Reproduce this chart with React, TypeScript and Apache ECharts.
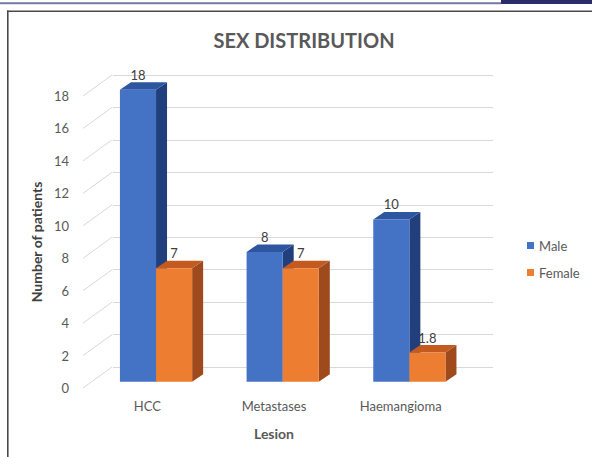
import React, { useEffect, useRef } from "react";
import * as echarts from "echarts";

// Chart data
const CATEGORIES = ["HCC", "Metastases", "Haemangioma"];
const MALE = [18, 8, 10];
const FEMALE = [7, 7, 1.8];
const Y_TICKS = [0, 2, 4, 6, 8, 10, 12, 14, 16, 18];
const SERIES_NAMES = ["Male", "Female"];

// 3D look: offset of the back wall relative to the front plane
const WALL_DX = 29;
const WALL_DY = -21;
// bar depth inside the floor
const BAR_FRONT = 0.3;
const BAR_DX = 11;
const BAR_DY = -7.5;

const FONT = "Lato, 'Open Sans', sans-serif";

const PALETTE = [
  { front: "#4472C4", side: "#213F7D", top: "#2E55A0" },
  { front: "#ED7D31", side: "#9E4A1D", top: "#C45A1F" },
];

function barRenderer(seriesIdx: number) {
  return (params: any, api: any) => {
    const idx = api.value(0);
    const v = api.value(1);
    const base = api.coord([idx, 0]);
    const topPt = api.coord([idx, v]);
    const catW = api.size([1, 0])[0];
    const barW = catW * 0.285;
    const fx = WALL_DX * BAR_FRONT;
    const fy = WALL_DY * BAR_FRONT;
    const x0 = base[0] + fx + (seriesIdx === 0 ? -barW : 0);
    const x1 = x0 + barW;
    const yb = base[1] + fy;
    const yt = topPt[1] + fy;
    const c = PALETTE[seriesIdx];
    return {
      type: "group",
      children: [
        {
          type: "polygon",
          shape: {
            points: [
              [x1, yb],
              [x1, yt],
              [x1 + BAR_DX, yt + BAR_DY],
              [x1 + BAR_DX, yb + BAR_DY],
            ],
          },
          style: { fill: c.side },
        },
        {
          type: "polygon",
          shape: {
            points: [
              [x0, yt],
              [x1, yt],
              [x1 + BAR_DX, yt + BAR_DY],
              [x0 + BAR_DX, yt + BAR_DY],
            ],
          },
          style: { fill: c.top },
        },
        {
          type: "rect",
          shape: { x: x0, y: yt, width: barW, height: yb - yt },
          style: { fill: c.front },
        },
        {
          type: "text",
          style: {
            text: String(v),
            x: x0 + barW / 2,
            y: yt - 15,
            align: "center",
            verticalAlign: "middle",
            fill: "#404040",
            fontSize: 13,
            fontFamily: FONT,
          },
        },
      ],
    };
  };
}

function sideGridRenderer(params: any, api: any) {
  const y = api.coord([0, api.value(1)])[1];
  const x = params.coordSys.x - 1;
  return {
    type: "line",
    shape: { x1: x, y1: y, x2: x + WALL_DX, y2: y + WALL_DY },
    style: { stroke: "#d9d9d9", lineWidth: 1 },
  };
}

export default function App() {
  const ref = useRef<HTMLDivElement>(null);

  useEffect(() => {
    document.body.style.margin = "0";
    if (!ref.current) return;
    const chart = echarts.init(ref.current, null, { renderer: "svg" });

    const frontGrid = { left: 84, right: 128, top: 96, bottom: 69 };
    const backGrid = {
      left: frontGrid.left + WALL_DX,
      right: frontGrid.right - WALL_DX,
      top: frontGrid.top + WALL_DY,
      bottom: frontGrid.bottom - WALL_DY,
    };

    chart.setOption({
      animation: false,
      backgroundColor: "#ffffff",
      textStyle: { fontFamily: FONT },
      title: {
        text: "SEX DISTRIBUTION",
        left: 299,
        top: 25,
        textAlign: "center",
        textStyle: {
          color: "#595959",
          fontSize: 20,
          fontWeight: "bold",
          fontFamily: FONT,
        },
      },
      legend: {
        orient: "vertical",
        left: 522,
        top: 234,
        itemWidth: 7,
        itemHeight: 7,
        itemGap: 14,
        icon: "rect",
        data: SERIES_NAMES,
        textStyle: { color: "#595959", fontSize: 13, fontFamily: FONT },
      },
      grid: [
        { ...frontGrid, containLabel: false },
        { ...backGrid, containLabel: false },
      ],
      xAxis: [
        {
          type: "category",
          gridIndex: 0,
          data: CATEGORIES,
          axisLine: { show: false },
          axisTick: { show: false },
          axisLabel: {
            color: "#595959",
            fontSize: 13,
            margin: 11,
            fontFamily: FONT,
          },
          name: "Lesion",
          nameLocation: "middle",
          nameGap: 38,
          nameTextStyle: {
            color: "#595959",
            fontSize: 14,
            fontWeight: "bold",
            fontFamily: FONT,
          },
        },
        {
          type: "category",
          gridIndex: 1,
          data: CATEGORIES,
          show: false,
        },
      ],
      yAxis: [
        {
          type: "value",
          gridIndex: 0,
          min: 0,
          max: 18,
          interval: 2,
          axisLine: { show: false },
          axisTick: { show: false },
          splitLine: { show: false },
          axisLabel: {
            color: "#595959",
            fontSize: 13,
            margin: 15,
            fontFamily: FONT,
          },
          name: "Number of patients",
          nameLocation: "middle",
          nameRotate: 90,
          nameGap: 37,
          nameTextStyle: {
            color: "#404040",
            fontSize: 14,
            fontWeight: "bold",
            fontFamily: FONT,
          },
        },
        {
          type: "value",
          gridIndex: 1,
          min: 0,
          max: 18,
          interval: 2,
          axisLine: { show: false },
          axisTick: { show: false },
          axisLabel: { show: false },
          splitLine: { show: true, lineStyle: { color: "#d9d9d9", width: 1 } },
        },
      ],
      series: [
        {
          type: "custom",
          name: "wall",
          xAxisIndex: 0,
          yAxisIndex: 0,
          silent: true,
          z: 1,
          clip: false,
          renderItem: sideGridRenderer,
          data: Y_TICKS.map((t) => [0, t]),
        },
        {
          type: "custom",
          name: SERIES_NAMES[0],
          xAxisIndex: 0,
          yAxisIndex: 0,
          z: 3,
          clip: false,
          itemStyle: { color: PALETTE[0].front },
          renderItem: barRenderer(0),
          data: MALE.map((v, i) => [i, v]),
        },
        {
          type: "custom",
          name: SERIES_NAMES[1],
          xAxisIndex: 0,
          yAxisIndex: 0,
          z: 4,
          clip: false,
          itemStyle: { color: PALETTE[1].front },
          renderItem: barRenderer(1),
          data: FEMALE.map((v, i) => [i, v]),
        },
      ],
      graphic: [
        // page header rule and tab
        { type: "rect", shape: { x: 0, y: 2.5, width: 501, height: 1.2 }, style: { fill: "#2B2E6E" } },
        { type: "rect", shape: { x: 0, y: 3.7, width: 501, height: 0.8 }, style: { fill: "#BDBDDB" } },
        { type: "rect", shape: { x: 501, y: 0, width: 91, height: 4 }, style: { fill: "#2B2D6B" } },
        // chart frame
        { type: "rect", shape: { x: 7, y: 10.5, width: 585, height: 1.6 }, style: { fill: "#4a4a4a" } },
        { type: "rect", shape: { x: 7, y: 10.5, width: 1.6, height: 447 }, style: { fill: "#4a4a4a" } },
      ],
    });

    return () => chart.dispose();
  }, []);

  return <div ref={ref} style={{ width: 592, height: 457 }} />;
}
